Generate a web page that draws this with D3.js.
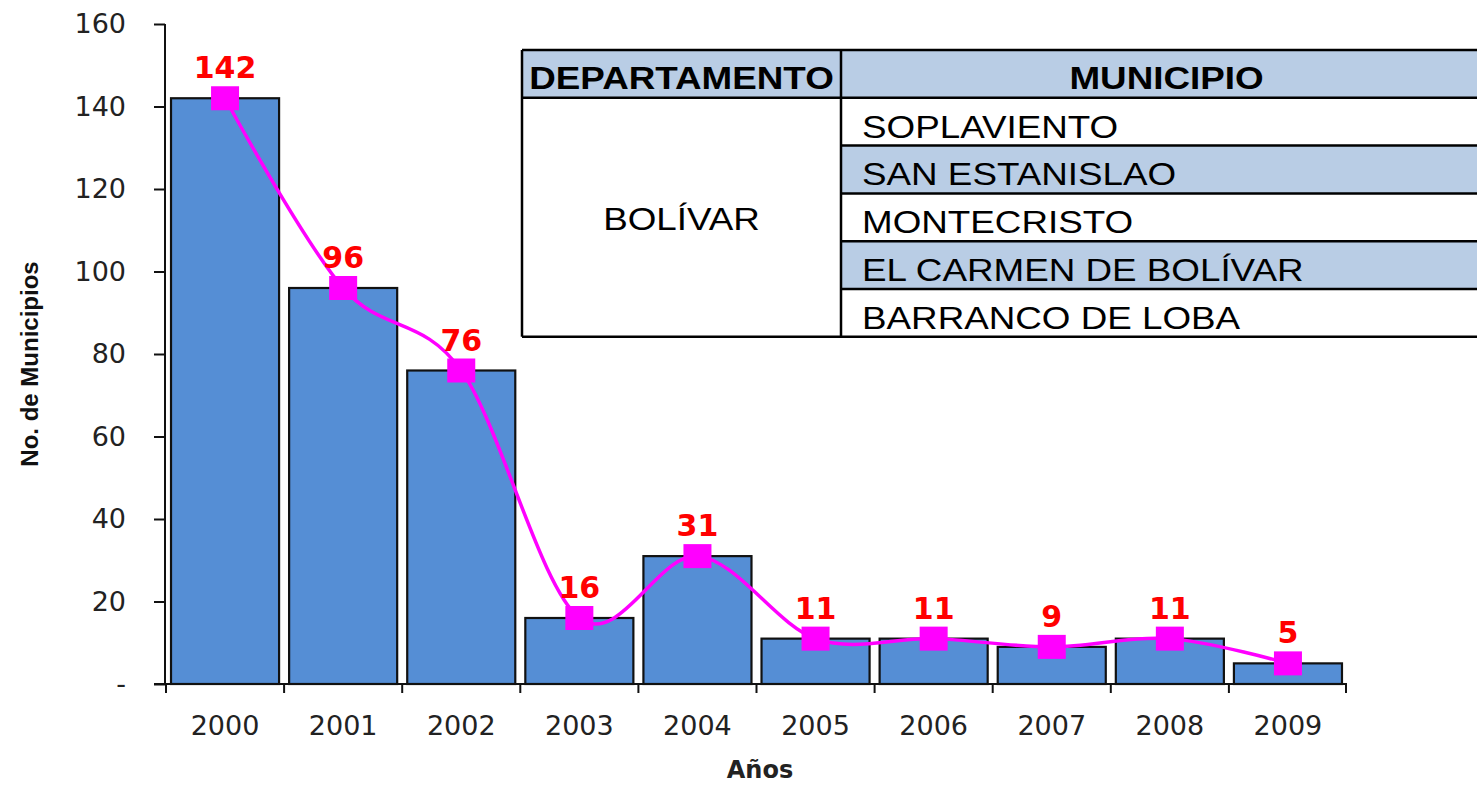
<!DOCTYPE html>
<html>
<head>
<meta charset="utf-8">
<script src="https://cdn.jsdelivr.net/npm/d3@7"></script>
<style>
  body { margin: 0; background: #fff; }
  svg { display: block; }
</style>
</head>
<body>
<div id="chart"></div>
<script>
// data
const years = ["2000", "2001", "2002", "2003", "2004", "2005", "2006", "2007", "2008", "2009"];
const municipios = [142, 96, 76, 16, 31, 11, 11, 9, 11, 5];
const yTicks = [0, 20, 40, 60, 80, 100, 120, 140, 160];
const departamento = "BOLÍVAR";
const listaMunicipios = ["SOPLAVIENTO", "SAN ESTANISLAO", "MONTECRISTO", "EL CARMEN DE BOLÍVAR", "BARRANCO DE LOBA"];

const W = 1477, H = 786;
const svg = d3.select("#chart").append("svg")
    .attr("width", W).attr("height", H);

// scales
const x = d3.scaleBand().domain(years)
    .range([166, 1347])
    .paddingInner(0.085)
    .paddingOuter(0.0425);
const y = d3.scaleLinear().domain([0, 160]).range([684, 24]);

// bars
svg.append("g").selectAll("rect").data(municipios)
  .enter().append("rect")
    .attr("x", (d, i) => x(years[i]))
    .attr("y", d => y(d))
    .attr("width", x.bandwidth())
    .attr("height", d => y(0) - y(d))
    .attr("fill", "#558ed5")
    .attr("stroke", "#111")
    .attr("stroke-width", 2.2);

// y axis
const yAxis = svg.append("g")
    .attr("transform", "translate(165,0)")
    .call(d3.axisLeft(y).tickValues(yTicks).tickSize(11).tickPadding(28)
        .tickFormat(d => d === 0 ? "-" : d));
yAxis.select(".domain").attr("stroke", "#111").attr("stroke-width", 2)
    .attr("d", "M0,24V684");
yAxis.selectAll(".tick line").attr("stroke", "#111").attr("stroke-width", 2);
yAxis.selectAll("text")
    .attr("font-family", "DejaVu Sans").attr("font-size", 27).attr("fill", "#222");

// x axis: ticks at band edges
const xAxis = svg.append("g").attr("transform", "translate(0,684)");
xAxis.append("line").attr("x1", 154).attr("x2", 1347)
    .attr("stroke", "#111").attr("stroke-width", 2);
const edges = years.map(d => x(d) - x.step() * x.paddingInner() / 2);
edges.push(x(years[years.length - 1]) + x.bandwidth() + x.step() * x.paddingInner() / 2);
edges[0] = 166;
edges[edges.length - 1] = 1346;
xAxis.selectAll("line.tk").data(edges).enter().append("line")
    .attr("class", "tk")
    .attr("x1", d => d).attr("x2", d => d)
    .attr("y1", 0).attr("y2", 9)
    .attr("stroke", "#111").attr("stroke-width", 2);
xAxis.selectAll("text").data(years).enter().append("text")
    .attr("x", d => x(d) + x.bandwidth() / 2)
    .attr("y", 51)
    .attr("text-anchor", "middle")
    .attr("font-family", "DejaVu Sans").attr("font-size", 27).attr("fill", "#222")
    .text(d => d);

// axis titles
svg.append("text")
    .attr("transform", "translate(38,364) rotate(-90)")
    .attr("text-anchor", "middle")
    .attr("font-family", "Liberation Sans, Arial").attr("font-weight", "bold")
    .attr("font-size", 24).attr("fill", "#111")
    .text("No. de Municipios");
svg.append("text")
    .attr("x", 760).attr("y", 778)
    .attr("text-anchor", "middle")
    .attr("font-family", "DejaVu Sans").attr("font-weight", "bold")
    .attr("font-size", 24).attr("fill", "#222")
    .text("Años");

// smooth line + markers
const pts = municipios.map((d, i) => [x(years[i]) + x.bandwidth() / 2, y(d)]);
svg.append("path")
    .attr("d", d3.line().curve(d3.curveCardinal.tension(0))(pts))
    .attr("fill", "none")
    .attr("stroke", "#ff00ff")
    .attr("stroke-width", 3.5);
svg.append("g").selectAll("rect").data(pts).enter().append("rect")
    .attr("x", d => d[0] - 14).attr("y", d => d[1] - 12)
    .attr("width", 28).attr("height", 24)
    .attr("fill", "#ff00ff");
svg.append("g").selectAll("text").data(municipios).enter().append("text")
    .attr("x", (d, i) => pts[i][0])
    .attr("y", (d, i) => pts[i][1] - 20)
    .attr("text-anchor", "middle")
    .attr("font-family", "DejaVu Sans").attr("font-weight", "bold")
    .attr("font-size", 30).attr("fill", "#ff0000")
    .text(d => d);

// table
const tx0 = 522, tx1 = 841, tx2 = 1492;
const ty0 = 50, rowH = 47.8;
const rowY = d3.range(listaMunicipios.length + 2).map(i => ty0 + i * rowH);
const tbl = svg.append("g");
const sx = 1.15;

tbl.append("rect").attr("x", tx0).attr("y", rowY[0])
    .attr("width", tx2 - tx0).attr("height", rowH).attr("fill", "#b9cde5");
listaMunicipios.forEach((m, i) => {
  if (i % 2 === 1) {
    tbl.append("rect").attr("x", tx1).attr("y", rowY[i + 1])
        .attr("width", tx2 - tx1).attr("height", rowH).attr("fill", "#b9cde5");
  }
});

function cellText(txt, xx, yy, anchor, bold) {
  tbl.append("text")
      .attr("transform", `translate(${xx},${yy}) scale(${sx},1)`)
      .attr("text-anchor", anchor)
      .attr("font-family", "Liberation Sans, Arial")
      .attr("font-weight", bold ? "bold" : "normal")
      .attr("font-size", 32).attr("fill", "#000")
      .text(txt);
}
cellText("DEPARTAMENTO", (tx0 + tx1) / 2, rowY[1] - 9, "middle", true);
cellText("MUNICIPIO", (tx1 + tx2) / 2, rowY[1] - 9, "middle", true);
listaMunicipios.forEach((m, i) => cellText(m, 862, rowY[i + 2] - 8, "start", false));
cellText(departamento, (tx0 + tx1) / 2, (rowY[1] + rowY[rowY.length - 1]) / 2 + 13, "middle", false);

// grid lines
const ln = (x1, y1, x2, y2) => tbl.append("line")
    .attr("x1", x1).attr("y1", y1).attr("x2", x2).attr("y2", y2)
    .attr("stroke", "#000").attr("stroke-width", 2.5);
ln(tx0, rowY[0], tx2, rowY[0]);
ln(tx0, rowY[1], tx2, rowY[1]);
rowY.slice(2, -1).forEach(yy => ln(tx1, yy, tx2, yy));
ln(tx0, rowY[rowY.length - 1], tx2, rowY[rowY.length - 1]);
ln(tx0, rowY[0], tx0, rowY[rowY.length - 1]);
ln(tx1, rowY[0], tx1, rowY[rowY.length - 1]);
</script>
</body>
</html>
